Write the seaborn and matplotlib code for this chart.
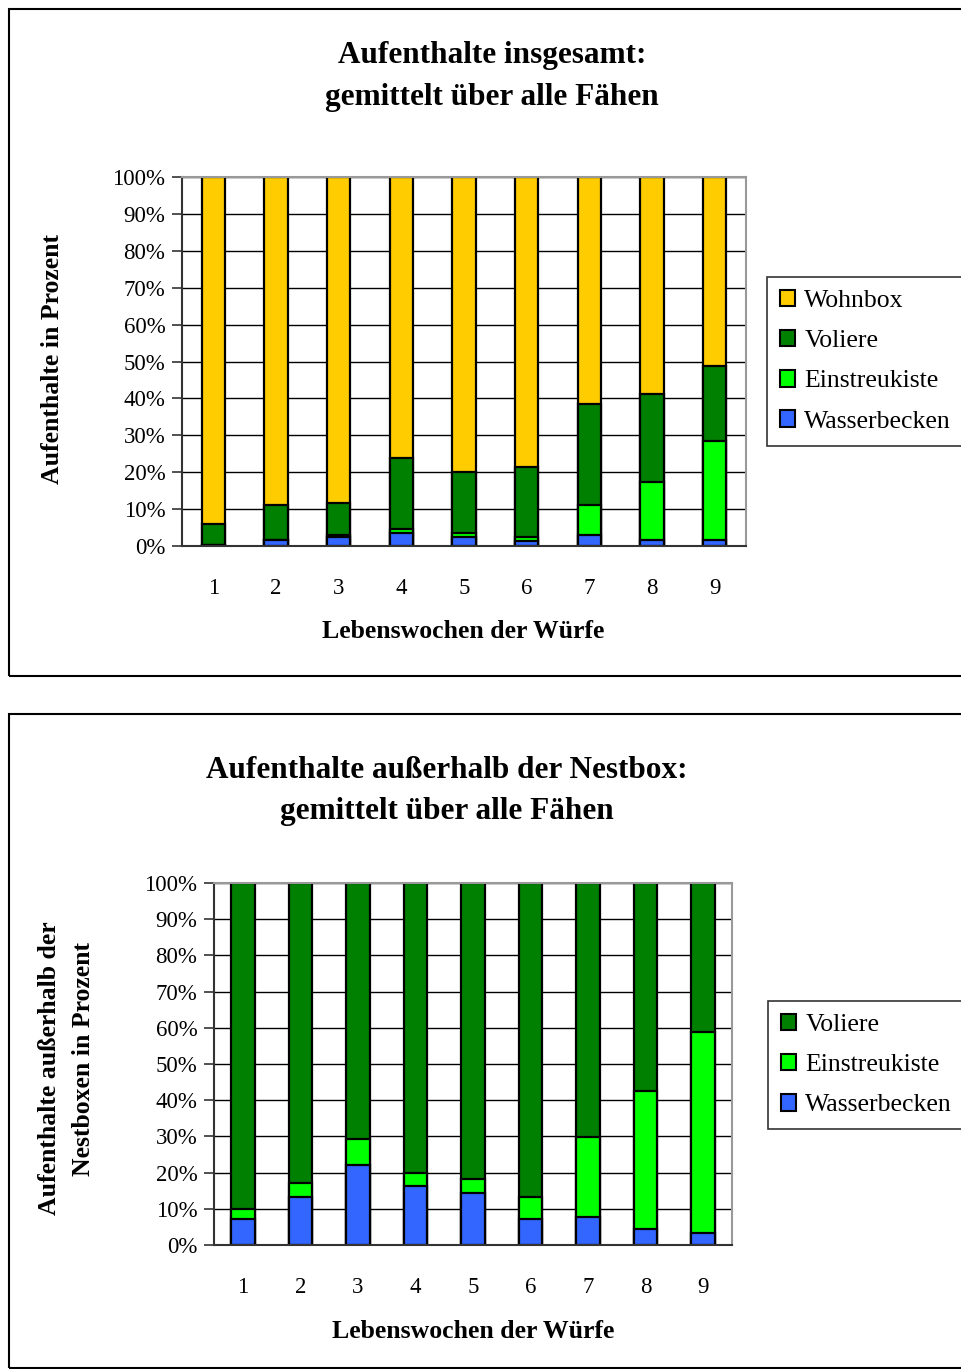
import numpy as np
import pandas as pd
import matplotlib
matplotlib.use("Agg")
import matplotlib.pyplot as plt
from matplotlib.patches import Rectangle, Patch
import seaborn as sns

sns.set_theme(style="white")
plt.rcParams['font.family'] = ['Liberation Serif', 'DejaVu Serif']
plt.rcParams['text.color'] = 'black'
plt.rcParams['xtick.color'] = 'black'
plt.rcParams['ytick.color'] = 'black'
plt.rcParams['axes.labelcolor'] = 'black'

weeks = ["1", "2", "3", "4", "5", "6", "7", "8", "9"]

# Chart 1: Aufenthalte insgesamt (%)
wasser1 = [0.3, 1.6, 2.5, 3.6, 2.5, 1.4, 3.0, 1.6, 1.6]
einstreu1 = [0.0, 0.0, 0.5, 1.1, 1.1, 1.1, 8.2, 15.7, 26.9]
voliere1 = [5.7, 9.5, 8.7, 19.1, 16.4, 19.0, 27.2, 23.9, 20.3]
wohnbox1 = [94.0, 88.9, 88.3, 76.2, 80.0, 78.5, 61.6, 58.8, 51.2]

# Chart 2: Aufenthalte außerhalb der Nestbox (%)
wasser2 = [7.1, 13.2, 22.1, 16.4, 14.3, 7.1, 7.7, 4.4, 3.2]
einstreu2 = [2.8, 3.8, 7.2, 3.4, 3.8, 6.1, 22.1, 38.1, 55.7]
voliere2 = [90.1, 83.0, 70.7, 80.2, 81.9, 86.8, 70.2, 57.5, 41.1]

yticks = [0, 10, 20, 30, 40, 50, 60, 70, 80, 90, 100]
ytick_labels = [f"{v}%" for v in yticks]

colors = {
    "Wohnbox": "#FFCC00",
    "Voliere": "#008000",
    "Einstreukiste": "#00FF00",
    "Wasserbecken": "#3366FF",
}

W, H = 961, 1369
fig = plt.figure(figsize=(W / 100, H / 100), dpi=100)


def fx(px):
    return px / W


def fy(py):
    return 1 - py / H


def stacked(ax, series, names, width):
    # series bottom -> top; draw cumulative tops from the highest down
    cum = np.cumsum(np.array(series, dtype=float), axis=0)
    for i in range(len(series) - 1, -1, -1):
        df = pd.DataFrame({"week": weeks, "val": cum[i]})
        sns.barplot(data=df, x="week", y="val", color=colors[names[i]],
                    saturation=1, width=width, edgecolor="black",
                    linewidth=1.6, ax=ax, errorbar=None)


def style_axes(ax):
    ax.set_ylim(0, 100)
    ax.set_xlim(-0.5, 8.5)
    ax.set_yticks(yticks)
    ax.set_yticklabels(ytick_labels, fontsize=16.5, color="black")
    ax.yaxis.grid(True, color="black", linewidth=1.0)
    ax.set_axisbelow(True)
    ax.set_xlabel("")
    ax.set_ylabel("")
    ax.set_xticks(range(9))
    ax.set_xticklabels(weeks, fontsize=16.5, color="black")
    ax.tick_params(axis="x", which="major", length=0, pad=23)
    ax.set_xticks(np.arange(-0.5, 9.0, 1.0), minor=True)
    ax.tick_params(axis="x", which="minor", length=7, width=1.2, color="#333333", direction="out")
    ax.tick_params(axis="y", which="major", length=7, width=1.2, color="#333333",
                   direction="out", left=True, pad=5)
    for s in ["left", "bottom"]:
        ax.spines[s].set_color("#333333")
        ax.spines[s].set_linewidth(1.5)
    for s in ["top", "right"]:
        ax.spines[s].set_color("#999999")
        ax.spines[s].set_linewidth(1.5)
        ax.spines[s].set_visible(True)


# Panel borders
fig.patches.append(Rectangle((fx(9), fy(676)), fx(1000) - fx(9), fy(9) - fy(676),
                             transform=fig.transFigure, fill=False,
                             edgecolor="black", linewidth=1.5, zorder=0))
fig.patches.append(Rectangle((fx(9), fy(1368)), fx(1000) - fx(9), fy(714) - fy(1368),
                             transform=fig.transFigure, fill=False,
                             edgecolor="black", linewidth=1.5, zorder=0))

# ---- Top chart ----
ax1 = fig.add_axes([fx(182), fy(546), fx(746) - fx(182), fy(177) - fy(546)])
stacked(ax1, [wasser1, einstreu1, voliere1, wohnbox1],
        ["Wasserbecken", "Einstreukiste", "Voliere", "Wohnbox"], 0.375)
style_axes(ax1)

fig.text(fx(492), fy(55), "Aufenthalte insgesamt:", ha="center", va="center",
         fontsize=22.5, fontweight="bold")
fig.text(fx(492), fy(97), "gemittelt über alle Fähen", ha="center", va="center",
         fontsize=22.5, fontweight="bold")
fig.text(fx(463), fy(632), "Lebenswochen der Würfe", ha="center", va="center",
         fontsize=18.5, fontweight="bold")
fig.text(fx(53), fy(359), "Aufenthalte in Prozent", ha="center", va="center",
         rotation=90, fontsize=18.5, fontweight="bold")

h1 = [Patch(facecolor=colors[n], edgecolor="black", linewidth=1.5)
      for n in ["Wohnbox", "Voliere", "Einstreukiste", "Wasserbecken"]]
leg1 = fig.legend(h1, ["Wohnbox", "Voliere", "Einstreukiste", "Wasserbecken"],
                  loc="upper left", bbox_to_anchor=(fx(767), fy(277)),
                  frameon=True, fancybox=False, edgecolor="black",
                  fontsize=18.5, handlelength=0.6, handleheight=0.6,
                  handletextpad=0.35, labelspacing=0.7, borderpad=0.5,
                  borderaxespad=0)
leg1.get_frame().set_linewidth(1.2)

# ---- Bottom chart ----
ax2 = fig.add_axes([fx(214), fy(1245), fx(732) - fx(214), fy(883) - fy(1245)])
stacked(ax2, [wasser2, einstreu2, voliere2],
        ["Wasserbecken", "Einstreukiste", "Voliere"], 0.41)
style_axes(ax2)

fig.text(fx(447), fy(770), "Aufenthalte außerhalb der Nestbox:", ha="center", va="center",
         fontsize=22.5, fontweight="bold")
fig.text(fx(447), fy(812), "gemittelt über alle Fähen", ha="center", va="center",
         fontsize=22.5, fontweight="bold")
fig.text(fx(473), fy(1331), "Lebenswochen der Würfe", ha="center", va="center",
         fontsize=18.5, fontweight="bold")
fig.text(fx(50), fy(1068), "Aufenthalte außerhalb der", ha="center", va="center",
         rotation=90, fontsize=18.5, fontweight="bold")
fig.text(fx(84), fy(1059), "Nestboxen in Prozent", ha="center", va="center",
         rotation=90, fontsize=18.5, fontweight="bold")

h2 = [Patch(facecolor=colors[n], edgecolor="black", linewidth=1.5)
      for n in ["Voliere", "Einstreukiste", "Wasserbecken"]]
leg2 = fig.legend(h2, ["Voliere", "Einstreukiste", "Wasserbecken"],
                  loc="upper left", bbox_to_anchor=(fx(768), fy(1001)),
                  frameon=True, fancybox=False, edgecolor="black",
                  fontsize=18.5, handlelength=0.6, handleheight=0.6,
                  handletextpad=0.35, labelspacing=0.7, borderpad=0.5,
                  borderaxespad=0)
leg2.get_frame().set_linewidth(1.2)

fig.savefig("out.png", dpi=100, facecolor="white")
